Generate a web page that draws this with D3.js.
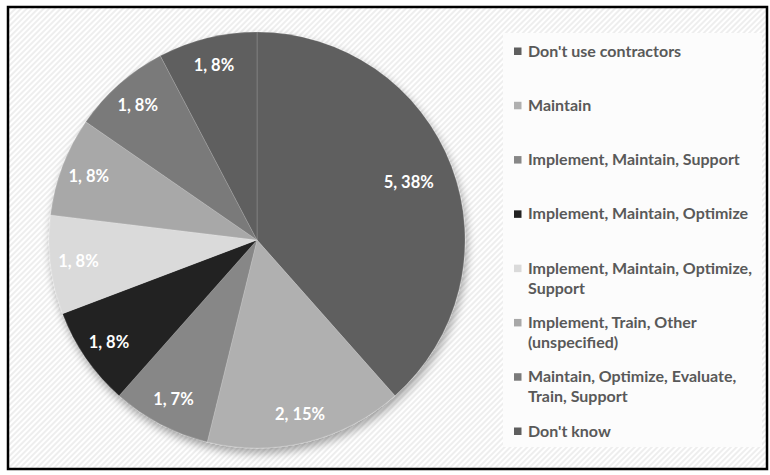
<!DOCTYPE html>
<html>
<head>
<meta charset="utf-8">
<script src="https://cdn.jsdelivr.net/npm/d3@7"></script>
<style>
  html, body { margin: 0; padding: 0; background: #ffffff; }
  svg { display: block; }
</style>
</head>
<body>
<svg id="chart" width="770" height="475"></svg>
<script>
// Who does the work on contracted systems: response counts per category
const categories = [
  "Don't use contractors",
  "Maintain",
  "Implement, Maintain, Support",
  "Implement, Maintain, Optimize",
  "Implement, Maintain, Optimize, Support",
  "Implement, Train, Other (unspecified)",
  "Maintain, Optimize, Evaluate, Train, Support",
  "Don't know"
];
const counts = [5, 2, 1, 1, 1, 1, 1, 1];
const percentLabels = ["38%", "15%", "7%", "8%", "8%", "8%", "8%", "8%"];
const sliceColors = ["#5f5f5f", "#b0b0b0", "#878787", "#222222", "#dadada", "#a8a8a8", "#7a7a7a", "#5e5e5e"];
// legend entries broken onto lines the way they wrap in the legend column
const legendLines = [
  ["Don't use contractors"],
  ["Maintain"],
  ["Implement, Maintain, Support"],
  ["Implement, Maintain, Optimize"],
  ["Implement, Maintain, Optimize,", "Support"],
  ["Implement, Train, Other", "(unspecified)"],
  ["Maintain, Optimize, Evaluate,", "Train, Support"],
  ["Don't know"]
];

const svg = d3.select("#chart");

const defs = svg.append("defs");
// faint diagonal hatching used as the chart area fill
const pat = defs.append("pattern")
  .attr("id", "hatch")
  .attr("patternUnits", "userSpaceOnUse")
  .attr("width", 4).attr("height", 4)
  .attr("patternTransform", "rotate(45)");
pat.append("rect").attr("width", 4).attr("height", 4).attr("fill", "#ffffff");
pat.append("rect").attr("width", 2).attr("height", 4).attr("fill", "#eeeeee");

const shadow = defs.append("filter").attr("id", "pieShadow")
  .attr("x", "-20%").attr("y", "-20%").attr("width", "140%").attr("height", "140%");
shadow.append("feGaussianBlur").attr("in", "SourceAlpha").attr("stdDeviation", 5).attr("result", "b");
shadow.append("feOffset").attr("in", "b").attr("dx", 2).attr("dy", 5).attr("result", "o");
shadow.append("feComponentTransfer").attr("in", "o").attr("result", "s")
  .append("feFuncA").attr("type", "linear").attr("slope", 0.35);
const merge = shadow.append("feMerge");
merge.append("feMergeNode").attr("in", "s");
merge.append("feMergeNode").attr("in", "SourceGraphic");

// chart area with frame
const frame = { x: 8, y: 7, w: 759, h: 462 };
svg.append("rect")
  .attr("x", frame.x).attr("y", frame.y)
  .attr("width", frame.w).attr("height", frame.h)
  .attr("fill", "url(#hatch)");

// pie
const cx = 257, cy = 240, R = 208;
const pie = d3.pie().value(d => d.value).sort(null);
const arcs = pie(categories.map((c, i) => ({ name: c, value: counts[i], pct: percentLabels[i], color: sliceColors[i] })));
const arc = d3.arc().innerRadius(0).outerRadius(R);

const g = svg.append("g").attr("transform", `translate(${cx},${cy})`);
const slices = g.append("g").attr("filter", "url(#pieShadow)");
slices.selectAll("path")
  .data(arcs)
  .join("path")
  .attr("d", arc)
  .attr("fill", d => d.data.color)
  .attr("stroke", "rgba(255,255,255,0.2)")
  .attr("stroke-width", 0.75);

// data labels: "count, percent"
const labelArc = d => {
  const r = d.data.value >= 5 ? R * 0.78 : R * 0.865;
  return d3.arc().innerRadius(r).outerRadius(r).centroid(d);
};
g.selectAll("text.lbl")
  .data(arcs)
  .join("text")
  .attr("class", "lbl")
  .attr("x", d => labelArc(d)[0])
  .attr("y", d => labelArc(d)[1])
  .attr("dy", "0.35em")
  .attr("text-anchor", "middle")
  .attr("fill", "#ffffff")
  .attr("font-family", "Lato, 'DejaVu Sans', sans-serif")
  .attr("font-weight", "bold")
  .attr("font-size", 16.5)
  .text(d => `${d.data.value}, ${d.data.pct}`);

// legend panel
const legend = { x: 503, y: 33, w: 259, h: 414 };
svg.append("rect")
  .attr("x", legend.x).attr("y", legend.y)
  .attr("width", legend.w).attr("height", legend.h)
  .attr("fill", "#fcfcfc");

const legendY = d3.scalePoint().domain(d3.range(categories.length)).range([51, 431]);
const lineH = 20;
const lg = svg.append("g");
categories.forEach((c, i) => {
  const lines = legendLines[i];
  const y0 = legendY(i);
  lg.append("rect")
    .attr("x", 514).attr("y", y0 - 3.5)
    .attr("width", 7.5).attr("height", 7.5)
    .attr("fill", sliceColors[i]);
  const t = lg.append("text")
    .attr("x", 528).attr("y", y0)
    .attr("fill", "#595959")
    .attr("font-family", "Lato, 'DejaVu Sans', sans-serif")
    .attr("font-weight", "bold")
    .attr("font-size", 16);
  lines.forEach((ln, k) => {
    t.append("tspan").attr("x", 528).attr("dy", k === 0 ? "0.35em" : lineH).text(ln);
  });
});

// frame border
svg.append("rect")
  .attr("x", frame.x).attr("y", frame.y)
  .attr("width", frame.w).attr("height", frame.h)
  .attr("fill", "none")
  .attr("stroke", "#000000")
  .attr("stroke-width", 2.5);
</script>
</body>
</html>
